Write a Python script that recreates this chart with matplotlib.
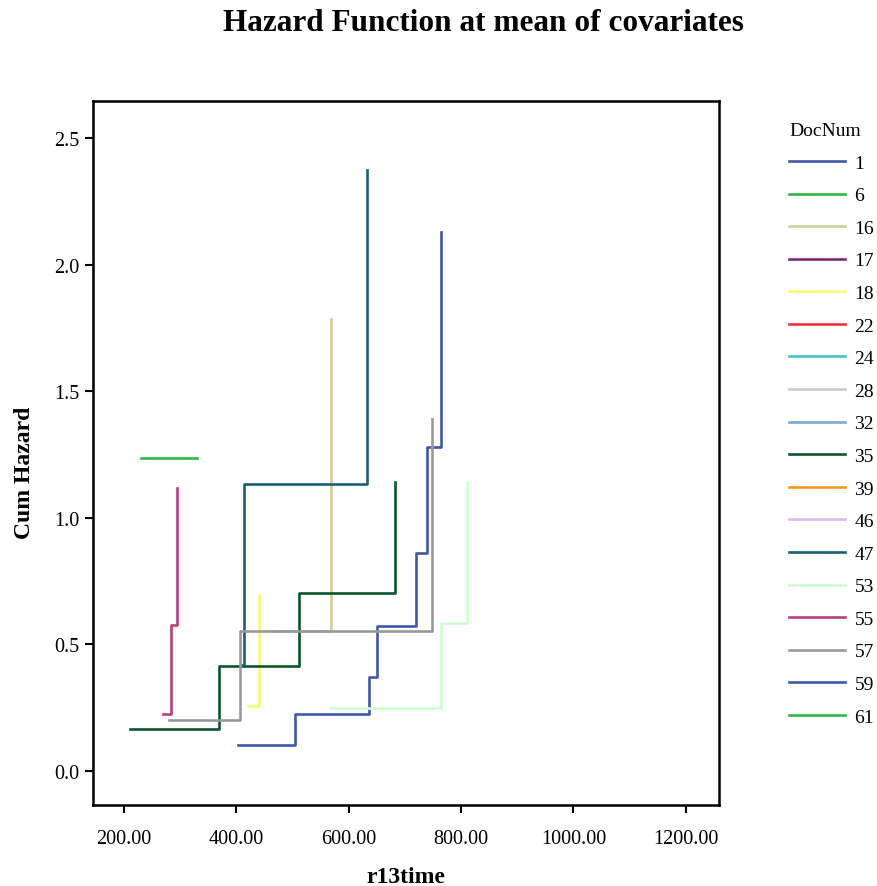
import matplotlib
matplotlib.use('Agg')
import matplotlib.pyplot as plt
from matplotlib.lines import Line2D
from matplotlib.ticker import FormatStrFormatter

plt.rcParams['font.family'] = ['Liberation Serif', 'DejaVu Serif']

# Legend entries (DocNum) and SPSS default colours
doc_nums = ['1', '6', '16', '17', '18', '22', '24', '28', '32', '35',
            '39', '46', '47', '53', '55', '57', '59', '61']
doc_colors = ['#3e58ac', '#2eb848', '#d3ce97', '#7c287d', '#fbf873', '#ef3338',
              '#48c2c5', '#cccccc', '#7aaad5', '#0a562c', '#f8981d', '#ddbaf1',
              '#1a5f76', '#ccffcc', '#bb3f7f', '#999999', '#3e58ac', '#2eb848']

# Cumulative hazard step curves (time, cum hazard)
t_1 = [403, 504, 637, 650, 720, 740, 765]
h_1 = [0.104, 0.225, 0.372, 0.572, 0.862, 1.28, 2.128]
t_6 = [230, 330]
h_6 = [1.235, 1.235]
t_16 = [462, 569]
h_16 = [0.555, 1.785]
t_18 = [420, 440]
h_18 = [0.258, 0.696]
t_35 = [210, 370, 512, 682]
h_35 = [0.165, 0.416, 0.705, 1.143]
t_47 = [410, 414, 632]
h_47 = [0.42, 1.135, 2.374]
t_53 = [567, 765, 810]
h_53 = [0.25, 0.585, 1.14]
t_55 = [270, 284, 294]
h_55 = [0.226, 0.577, 1.117]
t_57 = [280, 406, 749]
h_57 = [0.2, 0.552, 1.39]

curves = {'1': (t_1, h_1), '6': (t_6, h_6), '16': (t_16, h_16), '18': (t_18, h_18),
          '35': (t_35, h_35), '47': (t_47, h_47), '53': (t_53, h_53),
          '55': (t_55, h_55), '57': (t_57, h_57)}

x_ticks = [200, 400, 600, 800, 1000, 1200]
y_ticks = [0.0, 0.5, 1.0, 1.5, 2.0, 2.5]

fig = plt.figure(figsize=(8.78, 8.87), dpi=100)
ax = fig.add_axes([0.1059, 0.0913, 0.713, 0.7937])

color_of = dict(zip(doc_nums, doc_colors))
for doc, (t, h) in curves.items():
    ax.step(t, h, where='post', color=color_of[doc], lw=1.9)

ax.set_xlim(145, 1259)
ax.set_ylim(-0.134, 2.646)
ax.set_xticks(x_ticks)
ax.set_yticks(y_ticks)
ax.xaxis.set_major_formatter(FormatStrFormatter('%.2f'))
ax.yaxis.set_major_formatter(FormatStrFormatter('%.1f'))
ax.tick_params(direction='out', length=6, width=1.5, labelsize=14.5, pad=11)
ax.tick_params(axis='y', pad=4)
for s in ax.spines.values():
    s.set_linewidth(1.8)

ax.set_xlabel('r13time', fontsize=17, fontweight='bold')
ax.xaxis.set_label_coords(0.5, -0.086)
ax.set_ylabel('Cum Hazard', fontsize=17, fontweight='bold')
ax.yaxis.set_label_coords(-0.092, 0.474)
fig.text(0.551, 0.973, 'Hazard Function at mean of covariates', ha='center', va='center',
         fontsize=22.5, fontweight='bold')

handles = [Line2D([], [], color=c, lw=1.9) for c in doc_colors]
leg = ax.legend(handles, doc_nums, title='DocNum', loc='upper left',
                bbox_to_anchor=(1.1, 0.981), frameon=False, fontsize=14,
                title_fontsize=14, handlelength=2.85, labelspacing=0.77,
                handletextpad=0.5, borderaxespad=0)
leg._legend_box.align = 'left'

fig.savefig('out.png', dpi=100)
